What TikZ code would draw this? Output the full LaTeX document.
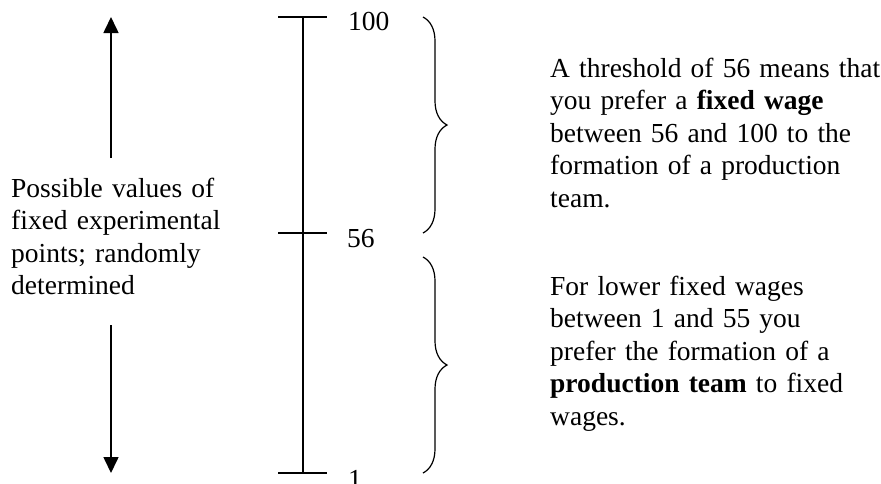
\documentclass[tikz,border=0pt]{standalone}
\usepackage{fontspec}
\setmainfont{Liberation Serif}
\usetikzlibrary{arrows.meta,decorations.pathreplacing}
\begin{document}
\begin{tikzpicture}[x=1pt,y=-1pt,
  txt/.style={inner sep=0pt,anchor=base west,align=left,text width=#1,
    font=\fontsize{27.5}{32.5}\selectfont},
  txt/.default=330pt,
  lbl/.style={inner sep=0pt,anchor=base west,font=\fontsize{27.5}{32.5}\selectfont},
  axisline/.style={line width=2.6pt},
  tickline/.style={line width=1.1pt},
  bracestyle/.style={line width=1.2pt,decorate,decoration={brace,amplitude=24pt}},
  arrowline/.style={line width=1.6pt,-{Triangle[width=15pt,length=16pt]}}]
\useasboundingbox (0,0) rectangle (881,483);
% axis
\coordinate (atop) at (303,17);
\coordinate (amid) at (303,233);
\coordinate (abot) at (303,473);
\draw[axisline] (atop) -- (abot);
\coordinate (t1l) at (278,17);  \coordinate (t1r) at (327,17);
\coordinate (t2l) at (278,233); \coordinate (t2r) at (327,233);
\coordinate (t3l) at (278,473); \coordinate (t3r) at (327,473);
\draw[tickline] (t1l) -- (t1r);
\draw[tickline] (t2l) -- (t2r);
\draw[tickline] (t3l) -- (t3r);
% labels
\node[lbl] (l100) at (348,30) {100};
\node[lbl] (l56) at (347,247) {56};
\node[lbl] (l1) at (348,488) {1};
% braces
\coordinate (b1s) at (423,17);  \coordinate (b1e) at (423,233);
\coordinate (b2s) at (423,257); \coordinate (b2e) at (423,473);
\draw[bracestyle] (b1s) -- (b1e);
\draw[bracestyle] (b2s) -- (b2e);
% arrows
\coordinate (upS) at (111,158); \coordinate (upE) at (111,17);
\coordinate (dnS) at (111,325); \coordinate (dnE) at (111,473);
\draw[arrowline] (upS) -- (upE);
\draw[arrowline] (dnS) -- (dnE);
% texts
\node[txt=260pt] (left) at (11,197) {Possible values of\\fixed experimental\\points; randomly\\determined};
\node[txt] (rtop) at (550,77) {A threshold of 56 means that\\you prefer a \textbf{fixed wage}\\between 56 and 100 to the\\formation of a production\\team.};
\node[txt] (rbot) at (550,295) {For lower fixed wages\\between 1 and 55 you\\prefer the formation of a\\\textbf{production team} to fixed\\wages.};
\end{tikzpicture}
\end{document}
